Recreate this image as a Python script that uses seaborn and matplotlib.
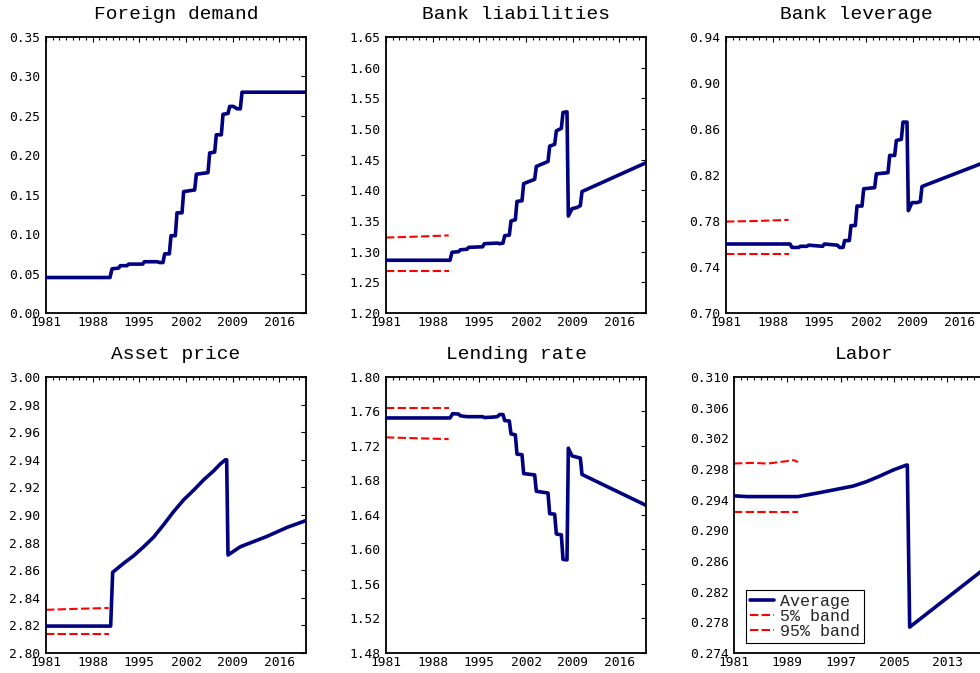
import matplotlib
matplotlib.use("Agg")
import numpy as np
import pandas as pd
import seaborn as sns
import matplotlib.pyplot as plt
from matplotlib.ticker import FixedLocator, MultipleLocator, FormatStrFormatter

# ---------------- data ----------------
# Foreign demand
fd_x = [1981, 1990.6, 1990.9, 1991.9, 1992.15, 1993.15, 1993.4, 1995.5, 1995.75, 1997.7,
        1998.05, 1998.55, 1998.8, 1999.5, 1999.75, 2000.4, 2000.65, 2001.4, 2001.65, 2003.3,
        2003.55, 2005.3, 2005.55, 2006.3, 2006.55, 2007.3, 2007.55, 2008.3, 2008.55, 2009.1,
        2009.65, 2010.15, 2010.4, 2020]
fd_y = [0.045, 0.045, 0.056, 0.057, 0.060, 0.060, 0.062, 0.062, 0.065, 0.065,
        0.064, 0.064, 0.075, 0.075, 0.098, 0.098, 0.127, 0.127, 0.154, 0.156,
        0.176, 0.178, 0.203, 0.204, 0.226, 0.226, 0.252, 0.253, 0.262, 0.262,
        0.259, 0.259, 0.280, 0.280]

# Bank liabilities
bl_x = [1981, 1990.6, 1990.9, 1991.9, 1992.15, 1993.15, 1993.4, 1995.5, 1995.75, 1997.7,
        1998.05, 1998.55, 1998.8, 1999.5, 1999.75, 2000.4, 2000.65, 2001.4, 2001.65, 2003.3,
        2003.55, 2005.3, 2005.55, 2006.3, 2006.55, 2007.3, 2007.55, 2008.15, 2008.35, 2008.9,
        2009.65, 2010.15, 2010.4, 2020]
bl_y = [1.286, 1.286, 1.299, 1.300, 1.303, 1.304, 1.307, 1.308, 1.313, 1.314,
        1.313, 1.314, 1.326, 1.327, 1.350, 1.352, 1.382, 1.383, 1.411, 1.418,
        1.439, 1.447, 1.472, 1.475, 1.497, 1.501, 1.527, 1.528, 1.358, 1.370,
        1.372, 1.375, 1.398, 1.445]
bl_band_x = [1981, 1985.5, 1990.4]
bl_lo = [1.269, 1.269, 1.269]
bl_hi = [1.323, 1.3245, 1.3265]

# Bank leverage
lv_x = bl_x
lv_y = [0.760, 0.760, 0.757, 0.757, 0.758, 0.758, 0.759, 0.758, 0.760, 0.759,
        0.757, 0.757, 0.763, 0.763, 0.776, 0.776, 0.793, 0.793, 0.808, 0.809,
        0.821, 0.822, 0.837, 0.837, 0.850, 0.851, 0.866, 0.866, 0.789, 0.796,
        0.796, 0.797, 0.810, 0.8315]
lv_band_x = [1981, 1985.5, 1990.4]
lv_lo = [0.7515, 0.7515, 0.7515]
lv_hi = [0.7795, 0.780, 0.781]

# Asset price
ap_x = [1981, 1990.7, 1991.0, 1992.65, 1994.15, 1995.65, 1997.15, 1998.65, 2000.15, 2001.65,
        2003.15, 2004.65, 2006.15, 2007.15, 2007.9, 2008.1, 2008.3, 2010.15, 2014.15, 2017.15, 2020]
ap_y = [2.8195, 2.8195, 2.8585, 2.865, 2.8705, 2.877, 2.884, 2.893, 2.9025, 2.911,
        2.918, 2.9255, 2.932, 2.937, 2.940, 2.940, 2.871, 2.877, 2.8845, 2.891, 2.896]
ap_band_x = [1981, 1985.5, 1990.4]
ap_lo = [2.814, 2.814, 2.814]
ap_hi = [2.8313, 2.832, 2.8326]

# Lending rate
lr_x = [1981, 1990.6, 1991.0, 1991.9, 1992.15, 1993.15, 1995.5, 1995.75, 1997.0, 1997.7,
        1998.05, 1998.55, 1998.8, 1999.5, 1999.75, 2000.4, 2000.65, 2001.4, 2001.65, 2003.3,
        2003.55, 2005.3, 2005.55, 2006.3, 2006.55, 2007.3, 2007.55, 2008.15, 2008.35, 2008.9,
        2009.65, 2010.15, 2010.4, 2020]
lr_y = [1.7525, 1.7525, 1.7575, 1.757, 1.755, 1.754, 1.754, 1.753, 1.7535, 1.754,
        1.7565, 1.7565, 1.7495, 1.749, 1.734, 1.733, 1.7105, 1.710, 1.688, 1.6865,
        1.6675, 1.6655, 1.6415, 1.641, 1.618, 1.617, 1.5885, 1.588, 1.7175, 1.7085,
        1.707, 1.706, 1.687, 1.6512]
lr_band_x = [1981, 1985.5, 1990.4]
lr_lo = [1.730, 1.729, 1.728]
lr_hi = [1.764, 1.764, 1.764]

# Labor
lb_x = [1981, 1983, 1990.6, 1994.35, 1998.85, 2000.85, 2002.85, 2004.85, 2006.85, 2007.0,
        2007.35, 2017.85, 2020]
lb_y = [0.2945, 0.2944, 0.2944, 0.2950, 0.29577, 0.29634, 0.29707, 0.29786, 0.29851, 0.29851,
        0.27738, 0.2845, 0.2860]
lb_band_x = [1981, 1984, 1986, 1990, 1990.6]
lb_lo = [0.29243, 0.29243, 0.29243, 0.29243, 0.29243]
lb_hi = [0.29872, 0.2988, 0.2987, 0.29915, 0.2989]

titles = ["Foreign demand", "Bank liabilities", "Bank leverage",
          "Asset price", "Lending rate", "Labor"]
ylims = [(0.00, 0.35), (1.20, 1.65), (0.70, 0.94), (2.80, 3.00), (1.48, 1.80), (0.274, 0.310)]
ysteps = [0.05, 0.05, 0.04, 0.02, 0.04, 0.004]
yfmts = ["%.2f", "%.2f", "%.2f", "%.2f", "%.2f", "%.3f"]
xtick_main = [1981, 1988, 1995, 2002, 2009, 2016]
xtick_labor = [1981, 1989, 1997, 2005, 2013, 2021]
legend_labels = ["Average", "5% band", "95% band"]

# ---------------- style ----------------
sns.set_style("white")
plt.rcParams["font.family"] = ["DejaVu Sans Mono", "DejaVu Sans"]

W, H = 980, 673
fig = plt.figure(figsize=(W / 100, H / 100), dpi=100)

# axes boxes in pixels: left, top, right, bottom
boxes = [(46, 37, 306, 313), (386, 37, 646, 313), (726, 37, 986, 313),
         (46, 377, 306, 653), (386, 377, 646, 653), (734, 377, 994, 653)]

series = [(fd_x, fd_y, None, None, None),
          (bl_x, bl_y, bl_band_x, bl_lo, bl_hi),
          (lv_x, lv_y, lv_band_x, lv_lo, lv_hi),
          (ap_x, ap_y, ap_band_x, ap_lo, ap_hi),
          (lr_x, lr_y, lr_band_x, lr_lo, lr_hi),
          (lb_x, lb_y, lb_band_x, lb_lo, lb_hi)]

NAVY = "#000080"
RED = "#ff0000"

for i, (title, (l, t, r, b), (sx, sy, bx, blo, bhi)) in enumerate(zip(titles, boxes, series)):
    ax = fig.add_axes([l / W, 1 - b / H, (r - l) / W, (b - t) / H])
    df = pd.DataFrame({"year": sx, "value": sy})
    sns.lineplot(data=df, x="year", y="value", ax=ax, color=NAVY, linewidth=2.6,
                 sort=False, estimator=None, label=legend_labels[0], zorder=3)
    if bx is not None:
        dlo = pd.DataFrame({"year": bx, "value": blo})
        dhi = pd.DataFrame({"year": bx, "value": bhi})
        sns.lineplot(data=dlo, x="year", y="value", ax=ax, color=RED, linewidth=1.5,
                     linestyle=(0, (4, 1.6)), sort=False, estimator=None,
                     label=legend_labels[1], zorder=2)
        sns.lineplot(data=dhi, x="year", y="value", ax=ax, color=RED, linewidth=1.5,
                     linestyle=(0, (4, 1.6)), sort=False, estimator=None,
                     label=legend_labels[2], zorder=2)

    ax.set_xlim(1981, 2020)
    lo, hi = ylims[i]
    ax.set_ylim(lo, hi)
    ax.set_yticks(np.arange(lo, hi + ysteps[i] / 2, ysteps[i]))
    ax.yaxis.set_major_formatter(FormatStrFormatter(yfmts[i]))
    ax.xaxis.set_major_locator(FixedLocator(xtick_labor if i == 5 else xtick_main))
    ax.xaxis.set_major_formatter(FormatStrFormatter("%d"))
    ax.xaxis.set_minor_locator(MultipleLocator(1))
    ax.set_xlabel("")
    ax.set_ylabel("")
    ax.set_title(title, family=["Liberation Mono", "DejaVu Sans Mono"], fontsize=14, pad=13,
                 color="black")
    ax.tick_params(which="both", direction="in", top=True, right=True, colors="black",
                   width=0.8)
    ax.tick_params(which="major", length=3.5, labelsize=9.3)
    ax.tick_params(which="minor", length=2)
    ax.tick_params(axis="x", pad=2.5)
    ax.tick_params(axis="y", pad=4)
    for sp in ax.spines.values():
        sp.set_color("black")
        sp.set_linewidth(1.3)
    ax.set_facecolor("white")

    if i == 5:
        leg = ax.legend(loc="lower left", bbox_to_anchor=(0.046, 0.036), borderaxespad=0,
                        prop={"family": "Liberation Mono", "size": 12},
                        frameon=True, fancybox=False, framealpha=1, edgecolor="black",
                        handlelength=1.45, handletextpad=0.35, borderpad=0.25,
                        labelspacing=0.0)
        leg.get_frame().set_linewidth(0.8)
    else:
        lg = ax.get_legend()
        if lg is not None:
            lg.remove()

fig.savefig("out.png", dpi=100, facecolor="white")
